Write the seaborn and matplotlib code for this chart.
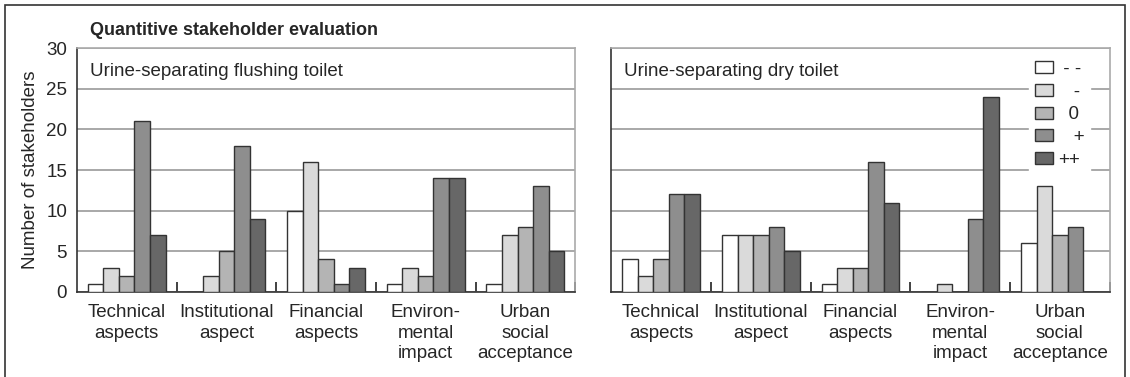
import pandas as pd
import seaborn as sns
import matplotlib.pyplot as plt
from matplotlib.patches import Rectangle

# Data
aspects = ['Technical\naspects', 'Institutional\naspect', 'Financial\naspects',
           'Environ-\nmental\nimpact', 'Urban\nsocial\nacceptance']
ratings = ['--', '-', '0', '+', '++']
legend_labels = [' - -', '   -', '  0', '   +', '++']

flushing_minus2 = [1, 0, 10, 1, 1]
flushing_minus1 = [3, 2, 16, 3, 7]
flushing_zero = [2, 5, 4, 2, 8]
flushing_plus1 = [21, 18, 1, 14, 13]
flushing_plus2 = [7, 9, 3, 14, 5]

dry_minus2 = [4, 7, 1, 0, 6]
dry_minus1 = [2, 7, 3, 1, 13]
dry_zero = [4, 7, 3, 0, 7]
dry_plus1 = [12, 8, 16, 9, 8]
dry_plus2 = [12, 5, 11, 24, 0]

colors = ['#ffffff', '#dadada', '#b4b4b4', '#8e8e8e', '#676767']


def to_long(series_list):
    rows = []
    for rating, vals in zip(ratings, series_list):
        for aspect, v in zip(aspects, vals):
            rows.append({'aspect': aspect, 'rating': rating, 'count': v})
    return pd.DataFrame(rows)


df_flush = to_long([flushing_minus2, flushing_minus1, flushing_zero, flushing_plus1, flushing_plus2])
df_dry = to_long([dry_minus2, dry_minus1, dry_zero, dry_plus1, dry_plus2])

sns.set_style('white')
plt.rcParams['font.family'] = ['Liberation Sans', 'DejaVu Sans']

fig = plt.figure(figsize=(11.3, 3.77), dpi=100)
ax1 = fig.add_axes([0.068, 0.2255, 0.441, 0.647])
ax2 = fig.add_axes([0.541, 0.2255, 0.441, 0.647])

for ax, data, name in [(ax1, df_flush, 'Urine-separating flushing toilet'),
                       (ax2, df_dry, 'Urine-separating dry toilet')]:
    sns.barplot(data=data, x='aspect', y='count', hue='rating', order=aspects,
                hue_order=ratings, palette=colors, edgecolor='#333333', linewidth=1.0,
                width=0.78, saturation=1, ax=ax, legend=(ax is ax2), zorder=3)
    ax.set_ylim(0, 30)
    ax.set_xlim(-0.5, 4.5)
    ax.set_yticks([0, 5, 10, 15, 20, 25, 30])
    ax.yaxis.grid(True, color='#9a9a9a', linewidth=1.2, zorder=0)
    ax.set_axisbelow(True)
    ax.set_xlabel('')
    ax.set_ylabel('')
    ax.tick_params(axis='x', which='major', length=0, labelsize=13.5, pad=9)
    ax.tick_params(axis='y', length=0, labelsize=13.5, pad=7)
    ax.set_xticks([0.5, 1.5, 2.5, 3.5, 4.5], minor=True)
    ax.tick_params(axis='x', which='minor', bottom=True, direction='in', length=7,
                   width=1.3, color='#333333')
    for lbl in ax.get_xticklabels():
        lbl.set_linespacing(1.25)
    for side in ['left', 'bottom']:
        ax.spines[side].set_color('#333333')
        ax.spines[side].set_linewidth(1.2)
    for side in ['top', 'right']:
        ax.spines[side].set_color('#aaaaaa')
        ax.spines[side].set_linewidth(1.2)
    ax.text(0.026, 0.905, name, transform=ax.transAxes, fontsize=13.5, va='center', ha='left')

ax1.set_ylabel('Number of stakeholders', fontsize=13.5, labelpad=5)
ax2.set_yticklabels([])

handles, _ = ax2.get_legend_handles_labels()
leg = ax2.legend(handles, legend_labels, loc='upper left', bbox_to_anchor=(0.838, 0.97),
                 borderaxespad=0, frameon=True, framealpha=1, edgecolor='white',
                 fancybox=False, fontsize=13.5, handlelength=0.96, handleheight=0.6,
                 labelspacing=0.3, handletextpad=0.3, borderpad=0.3)
leg.set_zorder(5)

fig.text(0.08, 0.918, 'Quantitive stakeholder evaluation', fontsize=13,
         fontweight='bold', va='center', ha='left')

# Outer frame around the whole figure
fig.patches.append(Rectangle((0.0044, -0.1), 0.9912, 1.087, transform=fig.transFigure,
                             fill=False, edgecolor='#333333', linewidth=1.2, clip_on=False))

fig.savefig('out.png', dpi=100)
